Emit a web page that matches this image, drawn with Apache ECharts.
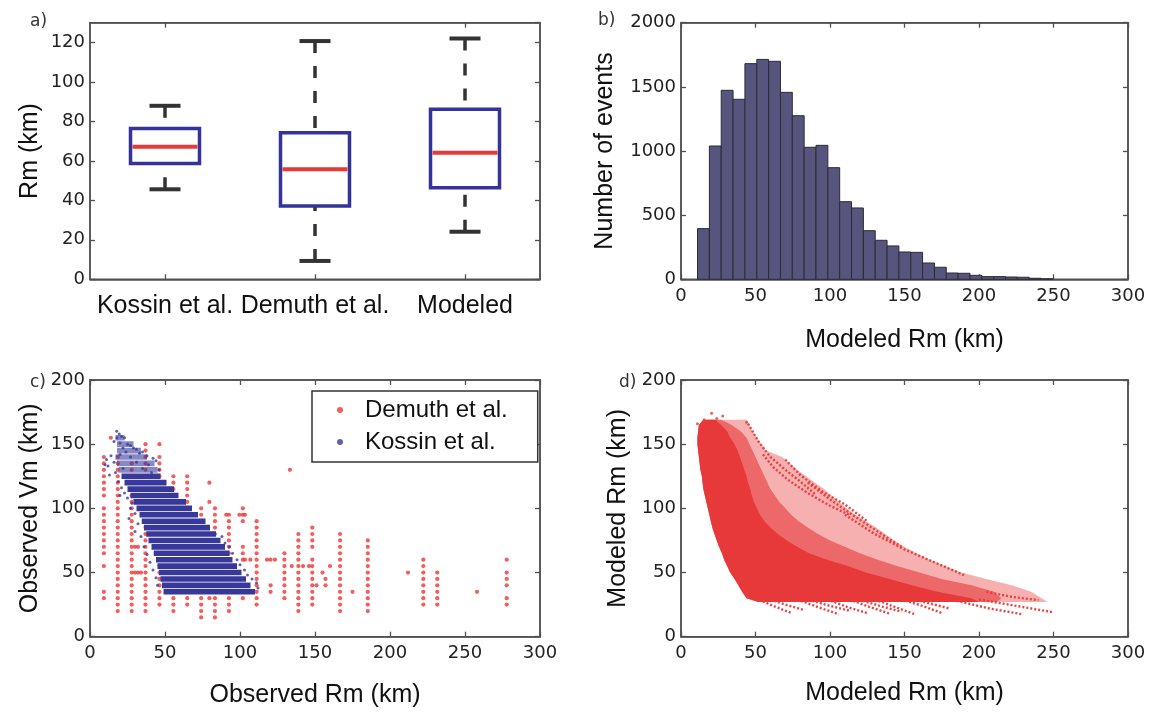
<!DOCTYPE html>
<html><head><meta charset="utf-8">
<script src="https://cdn.jsdelivr.net/npm/echarts@6/dist/echarts.min.js"></script>
<style>html,body{margin:0;padding:0;background:#fff}#c{width:1153px;height:712px}</style>
</head><body><div id="c"></div>
<script>
// ---------- Panel a: box plot ----------
const boxCategories = ['Kossin et al.', 'Demuth et al.', 'Modeled'];
// [lower whisker, Q1, median, Q3, upper whisker]
const boxKossin  = [45.6, 58.7, 67.1, 76.4, 87.9];
const boxDemuth  = [9.3, 37.1, 55.7, 74.2, 120.7];
const boxModeled = [24.1, 46.4, 64.1, 86.1, 122.0];

// ---------- Panel b: histogram ----------
const histBinStart = 11.1;
const histBinWidth = 7.95;
const histCounts = [395,1039,1473,1403,1681,1714,1699,1457,1275,1029,1044,870,605,556,379,304,260,213,210,127,94,49,47,31,21,21,18,16,8,4];

// ---------- Panel c: observed ----------
// Demuth et al.: columns of [Rm, list of Vm]
const demuthCols = [
  [9.26,  [140,135,130,125,120,115,110,100,95,90,85,80,75,70,65,55,35,30]],
  [18.5,  [140,135,130,125,120,115,110,105,100,95,90,85,80,75,70,65,60,55,50,45,40,35,30,25,20]],
  [27.8,  [135,130,125,120,115,110,105,100,95,90,85,80,75,70,65,60,55,50,45,40,35,30,25,20]],
  [37.0,  [150,145,140,135,130,125,120,115,110,105,100,95,90,85,80,75,70,65,60,55,50,45,40,35,30,25,20]],
  [46.3,  [150,140,135,130,125,120,115,110,105,100,95,90,85,80,75,70,65,60,55,50,45,40,35,30,25]],
  [55.6,  [125,120,115,110,105,100,95,90,85,80,75,70,65,60,55,50,45,40,35,30,25,20]],
  [64.8,  [125,120,115,110,105,100,95,90,85,80,75,70,65,60,55,50,45,40,35,30,25]],
  [74.1,  [100,95,90,85,80,75,70,65,60,55,50,45,40,35,30,25,20,15]],
  [83.3,  [100,95,90,85,80,75,70,65,60,55,50,45,40,35,30,25,20,15]],
  [92.6,  [95,90,85,80,75,70,65,60,55,50,45,40,35,30,25,20]],
  [101.9, [100,95,90,70,65,60,30]],
  [111.1, [90,85,80,75,70,65,60,55,50,45,40,35,30,25]],
  [120.4, [60,40,35]],
  [129.6, [65,60,55,50,45,40,35,30]],
  [138.9, [80,75,70,65,60,55,50,45,40,35,30,25,20]],
  [148.2, [85,80,75,70,60,55,50,45,40,35,30,25]],
  [166.7, [80,75,70,65,60,55,50,45,40,35,30,25,20]],
  [185.2, [75,70,65,60,55,50,45,40,35,30,25,20]],
  [222.2, [60,55,50,45,40,35,30,25]],
  [231.5, [50,45,40,35,30,25]],
  [277.8, [60,50,45,40,30,25]]
];
const demuthExtra = [[13.9,155],[79.6,120],[79.6,105],[79.6,30],[90.8,95],[99.6,95],[103.3,95],[103.3,60],
  [106.9,60],[118,60],[123.3,60],[133.3,130],[134.5,55],[142,55],[146,55],[155,50],[157,45],[151,40],[157,40],
  [160,55],[175,35],[212,50],[258,35],[30,50],[32,50],[34,50],[30,70],[32,70]];
// Kossin et al.: dense rows [Vm, Rm from, Rm to]
const kossinRows = [
  [35,49,110],[40,48,107],[45,47,104],[50,46,101],[55,45,98],[60,44,95],[65,42.5,93],[70,41,90],
  [75,39,87],[80,37.5,84],[85,36,80],[90,34.5,77],[95,33,72],[100,31,68],[105,29,64],[110,27,59],
  [115,25,56],[120,23,51],[125,21,47]
];
const kossinSparseRows = [[130,19,45],[135,18,43],[140,17,38],[145,18,34],[150,18,29],[155,17,23]];
const kossinPts = [[17.8,160],[19.5,158],[21,156],[18,155],[23,155],[16,152],[20,151],[25,150],[27,149],[22,147],
  [29,147],[31,146],[24,144],[33,143],[35,144],[20,142],[14,141],[27,140],[38,141],[42,139],[11,138],[16,136],
  [31,136],[39,134],[44,137],[10,134],[22,131],[35,131],[46,130],[17,128],[41,128],[13,126],[12,133],[19,121],
  [21,116],[23,112],[20,110],[25,108],[28,104],[27,100],[30,96],[26,92],[32,88],[30,82],[34,78],[36,70],
  [38,64],[40,58],[42,52],[44,46],[45,40],[112,38],[111,42],[108,45],[105,48],[103,52],[100,56],[98,60],
  [95,65],[93,70],[90,73],[88,78]];

// ---------- Panel d: modeled ----------
// rows [y, x left edge, x dense edge, x medium edge, x sparse edge]
const dRows = [
  [169,15,23,27,44],
  [165,12,27,34,46],[160,11.5,31,40,48],[155,11,33,44,51],[150,11,36,46,54],[145,11.5,38,48,57],
  [140,12,39.5,50,68],[135,12.5,41,52,73],[130,13,42.5,54,78],[125,14,44,56,84],[120,14.5,45,58,90],
  [115,15,46.5,60,96],[110,16,47.5,63,101],[105,17,49,66,106],[100,18,51,70,111],[95,19,53,74,117],
  [90,20,56,79,124],[85,21,60,85,131],[80,22.5,65,92,137],[75,24,71,100,143],[70,25.5,78,110,150],
  [65,27.5,86,120,158],[60,29,98,132,167],[55,31,112,145,177],[50,33,124,160,188],[45,36,140,175,205],
  [40,38.5,155,195,222],[35,41,172,210,235],[30,44,195,215,242],[27,52,200,212,246]
];
const dTracks = [
  [[50,30],[62,24],[74,18.5]],
  [[60,29],[70,25],[82,21]],
  [[78,29],[92,23],[106,17.5]],
  [[88,28],[100,24],[114,20]],
  [[98,29],[112,23],[126,18]],
  [[113,29],[127,23],[140,18]],
  [[122,28],[135,23.5],[148,19.5]],
  [[130,29],[144,23],[157,17.5]],
  [[148,29],[162,24],[175,18.5]],
  [[160,28],[170,25],[180,22]],
  [[185,28],[207,22],[229,17.5]],
  [[200,29],[225,24],[250,19]],
  [[205,35],[222,31],[240,28.5]],
  [[45,166],[52,152],[60,140],[70,130],[80,121],[90,111]],
  [[55,142],[62,132],[72,122],[85,112],[100,102],[113,95]],
  [[70,138],[80,126],[95,113],[110,103],[125,90]],
  [[85,120],[100,107],[115,95],[132,82],[148,70]],
  [[110,95],[130,80],[150,68],[170,58],[190,48]]
];
const dTopPts = [[20.5,174],[28,172],[15.5,169],[11,166],[24,170],[44,167],[13,162]];

// ---------- styling ----------
const AX = '#505050', RED = '#ef3535', BLUE = '#38389a', DRED = '#e8393a';
const grids = [
  {left:90, top:22.7, width:450, height:256.6},
  {left:681, top:22.7, width:447, height:256.6},
  {left:90, top:380, width:450, height:256.7},
  {left:681, top:380, width:447, height:256.7}
].map(g => Object.assign({show:true, borderColor:AX, borderWidth:1.5, backgroundColor:'rgba(0,0,0,0)'}, g));

const nameStyle = {fontFamily:'Liberation Sans', fontSize:25, color:'#111'};
function axis(o){
  return Object.assign({
    axisLine:{show:true, onZero:false, lineStyle:{color:AX, width:1.5}},
    axisTick:{show:true, inside:true, length:5, lineStyle:{color:AX, width:1.3}},
    splitLine:{show:false},
    axisLabel:{show:o.labels !== false, fontFamily:'DejaVu Sans', fontSize:18, color:'#222', margin:o.margin || 8,
               showMaxLabel: o.showMax !== false, formatter: v => String(v)},
    nameTextStyle:nameStyle
  }, o.opt);
}
const catTick = {show:true, inside:true, alignWithLabel:true, length:5, lineStyle:{color:AX, width:1.3}};
const xAxes = [
  // a
  Object.assign(axis({opt:{}}), {type:'category', gridIndex:0, data:boxCategories, axisTick:catTick,
    axisLabel:{interval:0, fontFamily:'Liberation Sans', fontSize:25, color:'#111', margin:14}}),
  Object.assign(axis({labels:false, opt:{}}), {type:'category', gridIndex:0, data:boxCategories, position:'top', axisTick:catTick}),
  // b
  axis({opt:{type:'value', gridIndex:1, min:0, max:300, interval:50, name:'Modeled Rm (km)', nameLocation:'middle', nameGap:48}}),
  axis({labels:false, opt:{type:'value', gridIndex:1, min:0, max:300, interval:50, position:'top'}}),
  // c
  axis({opt:{type:'value', gridIndex:2, min:0, max:300, interval:50, name:'Observed Rm (km)', nameLocation:'middle', nameGap:46}}),
  axis({labels:false, opt:{type:'value', gridIndex:2, min:0, max:300, interval:50, position:'top'}}),
  // d
  axis({opt:{type:'value', gridIndex:3, min:0, max:300, interval:50, name:'Modeled Rm (km)', nameLocation:'middle', nameGap:44}}),
  axis({labels:false, opt:{type:'value', gridIndex:3, min:0, max:300, interval:50, position:'top'}})
];
const yAxes = [
  axis({margin:5, showMax:false, opt:{type:'value', gridIndex:0, min:0, max:130, interval:20, name:'Rm (km)', nameLocation:'middle', nameGap:47}}),
  axis({labels:false, opt:{type:'value', gridIndex:0, min:0, max:130, interval:20, position:'right'}}),
  axis({margin:5, opt:{type:'value', gridIndex:1, min:0, max:2000, interval:500, name:'Number of events', nameLocation:'middle', nameGap:63}}),
  axis({labels:false, opt:{type:'value', gridIndex:1, min:0, max:2000, interval:500, position:'right'}}),
  axis({margin:5, opt:{type:'value', gridIndex:2, min:0, max:200, interval:50, name:'Observed Vm (km)', nameLocation:'middle', nameGap:47}}),
  axis({labels:false, opt:{type:'value', gridIndex:2, min:0, max:200, interval:50, position:'right'}}),
  axis({margin:5, opt:{type:'value', gridIndex:3, min:0, max:200, interval:50, name:'Modeled Rm (km)', nameLocation:'middle', nameGap:50}}),
  axis({labels:false, opt:{type:'value', gridIndex:3, min:0, max:200, interval:50, position:'right'}})
];

// ---------- data assembly ----------
const boxData = [boxKossin, boxDemuth, boxModeled].map((s, i) => [i].concat(s));
const histData = histCounts.map((c, i) => [histBinStart + i*histBinWidth, histBinStart + (i+1)*histBinWidth, c]);
const demuthPts = [];
demuthCols.forEach(([x, ys]) => ys.forEach(y => demuthPts.push([x, y])));
demuthExtra.forEach(p => demuthPts.push(p));

function rowsSeries(rows, color, name){
  return {type:'custom', name, xAxisIndex:4, yAxisIndex:4, clip:true, silent:true, z:3,
    data: rows, encode:{x:[1,2], y:0},
    renderItem(params, api){
      const a = api.coord([api.value(1), api.value(0) + 2.5]);
      const b = api.coord([api.value(2), api.value(0) - 2.5]);
      return {type:'rect', shape:{x:a[0], y:a[1] + 0.4, width:b[0]-a[0], height:(b[1]-a[1]) - 0.8},
              style:{fill:color}};
    }};
}
function polySeries(col, fill){
  return {type:'custom', name:'Modeled', xAxisIndex:6, yAxisIndex:6, clip:true, silent:true,
    data: dRows, encode:{x:[1,col], y:0},
    renderItem(params, api){
      if (params.dataIndex !== 0) return null;
      const pts = [];
      for (let i = dRows.length - 1; i >= 0; i--) pts.push(api.coord([dRows[i][1], dRows[i][0]]));
      for (let i = 0; i < dRows.length; i++) pts.push(api.coord([dRows[i][col], dRows[i][0]]));
      return {type:'polygon', shape:{points:pts}, style:{fill}};
    }};
}

const series = [
  // a: box plot
  {type:'custom', name:'box', xAxisIndex:0, yAxisIndex:0, data:boxData, encode:{x:0, y:[1,2,3,4,5]},
   renderItem(params, api){
     const i = api.value(0);
     const lo = api.coord([i, api.value(1)]), q1 = api.coord([i, api.value(2)]), md = api.coord([i, api.value(3)]),
           q3 = api.coord([i, api.value(4)]), hi = api.coord([i, api.value(5)]);
     const cx = lo[0], bw = 69, cw = 31;
     const wk = {stroke:'#333', lineWidth:3.5, lineDash:[12,13]};
     return {type:'group', children:[
       {type:'line', shape:{x1:cx, y1:hi[1], x2:cx, y2:q3[1]}, style:wk},
       {type:'line', shape:{x1:cx, y1:lo[1], x2:cx, y2:q1[1]}, style:wk},
       {type:'line', shape:{x1:cx-cw/2, y1:hi[1], x2:cx+cw/2, y2:hi[1]}, style:{stroke:'#333', lineWidth:4}},
       {type:'line', shape:{x1:cx-cw/2, y1:lo[1], x2:cx+cw/2, y2:lo[1]}, style:{stroke:'#333', lineWidth:4}},
       {type:'rect', shape:{x:cx-bw/2, y:q3[1], width:bw, height:q1[1]-q3[1]}, style:{fill:'#fff', stroke:'#33339a', lineWidth:3.5}},
       {type:'line', shape:{x1:cx-bw/2+2, y1:md[1], x2:cx+bw/2-2, y2:md[1]}, style:{stroke:'#e8383a', lineWidth:4}}
     ]};
   }},
  // b: histogram
  {type:'custom', name:'hist', xAxisIndex:2, yAxisIndex:2, data:histData, encode:{x:[0,1], y:2},
   renderItem(params, api){
     const p0 = api.coord([api.value(0), 0]), p1 = api.coord([api.value(1), api.value(2)]);
     return {type:'rect', shape:{x:p0[0], y:p1[1], width:p1[0]-p0[0], height:p0[1]-p1[1]},
             style:{fill:'#57547d', stroke:'#2c2c36', lineWidth:1}};
   }},
  // c
  {type:'scatter', name:'Demuth et al.', xAxisIndex:4, yAxisIndex:4, data:demuthPts, symbol:'circle', symbolSize:4.2,
   itemStyle:{color:RED}, z:2, silent:true},
  rowsSeries(kossinRows, BLUE, 'Kossin dense'),
  rowsSeries(kossinSparseRows, 'rgba(56,56,154,0.6)', 'Kossin sparse'),
  {type:'scatter', name:'Kossin et al.', xAxisIndex:4, yAxisIndex:4, data:kossinPts, symbol:'circle', symbolSize:3,
   itemStyle:{color:BLUE}, z:4, silent:true},
  // d
  polySeries(4, 'rgba(232,57,58,0.4)'),
  polySeries(3, 'rgba(232,57,58,0.6)'),
  polySeries(2, DRED),
  {type:'lines', name:'Modeled tracks', coordinateSystem:'cartesian2d', xAxisIndex:6, yAxisIndex:6, polyline:true,
   data: dTracks.map(c => ({coords:c})), silent:true,
   lineStyle:{color:DRED, width:2.4, type:[2,2], opacity:0.95}},
  {type:'scatter', name:'Modeled pts', xAxisIndex:6, yAxisIndex:6, data:dTopPts, symbolSize:3, itemStyle:{color:DRED}, silent:true}
];

const labelFont = '17px "DejaVu Sans"';
const option = {
  animation:false,
  grid:grids, xAxis:xAxes, yAxis:yAxes, series,
  legend:{
    left:312, top:391, orient:'vertical', selectedMode:false,
    data:[{name:'Demuth et al.', icon:'circle', itemStyle:{color:RED}},
          {name:'Kossin et al.', icon:'circle', itemStyle:{color:BLUE}}],
    itemWidth:6, itemHeight:6, itemGap:4, padding:[5,30,6,25],
    borderColor:'#333', borderWidth:1.5, backgroundColor:'#fff',
    textStyle:{fontFamily:'Liberation Sans', fontSize:24, color:'#111', padding:[0,0,0,17], lineHeight:28}
  },
  graphic:[
    {type:'text', left:30, top:13, style:{text:'a)', font:labelFont, fill:'#333'}},
    {type:'text', left:598, top:12, style:{text:'b)', font:labelFont, fill:'#333'}},
    {type:'text', left:30, top:374, style:{text:'c)', font:labelFont, fill:'#333'}},
    {type:'text', left:619, top:374, style:{text:'d)', font:labelFont, fill:'#333'}}
  ]
};
const chart = echarts.init(document.getElementById('c'), null, {renderer:'canvas'});
chart.setOption(option);
</script></body></html>
